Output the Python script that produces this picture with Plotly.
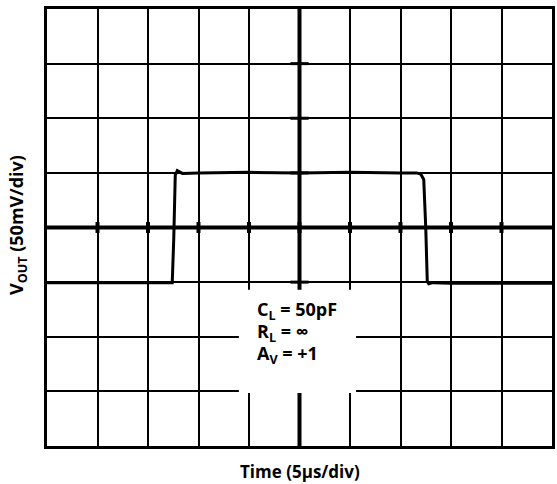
import plotly.graph_objects as go

# scope trace: time in us (5us/div), output in mV (50mV/div)
time_us = [-25, -18, -14, -12.9, -12.6, -12.45, -12.3, -12.1, -11.6, -10, -5, 0, 5, 10, 11.6, 12.0,
           12.3, 12.5, 12.65, 12.8, 13.2, 15, 20, 25]
vout_mv = [-50.5, -50.5, -50.5, -50.8, -50.5, -10, 48, 52, 49.5, 50, 50.5, 50, 50.5, 50, 50, 49,
           44, 0, -49, -51.5, -50.5, -51, -51, -51]

x_div = [-25, -20, -15, -10, -5, 0, 5, 10, 15, 20, 25]
y_div = [-200, -150, -100, -50, 0, 50, 100, 150, 200]

note_lines = ['C<sub>L</sub> = 50pF', 'R<sub>L</sub> = ∞', 'A<sub>V</sub> = +1']
note_y = [-76, -96, -116]

FONT = 'Open Sans'

fig = go.Figure()

fig.add_trace(go.Scatter(x=time_us, y=vout_mv, mode='lines',
                         line=dict(color='black', width=3), hoverinfo='skip'))

shapes = []
# centre cross
shapes.append(dict(type='line', x0=0, x1=0, y0=-200, y1=200, layer='between',
                   line=dict(color='black', width=4)))
shapes.append(dict(type='line', x0=-25, x1=25, y0=0, y1=0, layer='between',
                   line=dict(color='black', width=4)))
# small tick marks on the centre cross
for xv in x_div[1:-1]:
    shapes.append(dict(type='line', x0=xv, x1=xv, y0=-5, y1=5, layer='between',
                       line=dict(color='black', width=4)))
for yv in y_div[1:-1]:
    shapes.append(dict(type='line', x0=-0.9, x1=0.9, y0=yv, y1=yv, layer='between',
                       line=dict(color='black', width=3)))
# white panel behind the conditions text
shapes.append(dict(type='rect', x0=-6, x1=5.6, y0=-57, y1=-151.5, layer='between',
                   fillcolor='white', line=dict(width=0)))

annotations = []
for txt, yv in zip(note_lines, note_y):
    annotations.append(dict(x=-4.45, y=yv, xref='x', yref='y', text='<b>' + txt + '</b>',
                            showarrow=False, xanchor='left', yanchor='middle',
                            font=dict(family=FONT, size=18, color='black')))
annotations.append(dict(x=0.5, y=-0.058, xref='paper', yref='paper',
                        text='<b>Time (5µs/div)</b>', showarrow=False,
                        xanchor='center', yanchor='middle',
                        font=dict(family=FONT, size=17, color='black')))
annotations.append(dict(x=-0.058, y=0.505, xref='paper', yref='paper',
                        text='<b>V<sub>OUT</sub> (50mV/div)</b>', showarrow=False,
                        textangle=-90, xanchor='center', yanchor='middle',
                        font=dict(family=FONT, size=18, color='black')))

fig.update_layout(
    width=557, height=484,
    margin=dict(l=47, r=2, t=9, b=38),
    paper_bgcolor='white', plot_bgcolor='white',
    showlegend=False,
    shapes=shapes,
    annotations=annotations,
    xaxis=dict(range=[-25, 25], tickvals=x_div, showticklabels=False, ticks='',
               showgrid=True, gridcolor='black', gridwidth=2, zeroline=False,
               showline=True, linecolor='black', linewidth=3, mirror=True, fixedrange=True),
    yaxis=dict(range=[-200, 200], tickvals=y_div, showticklabels=False, ticks='',
               showgrid=True, gridcolor='black', gridwidth=2, zeroline=False,
               showline=True, linecolor='black', linewidth=3, mirror=True, fixedrange=True),
)

fig.write_html("out.html", config={'displayModeBar': False},
               post_script="document.body.style.margin='0';")
